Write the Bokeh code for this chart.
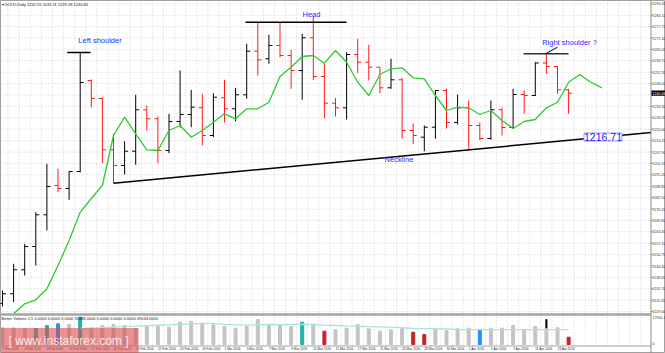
import pandas as pd
from bokeh.plotting import figure
from bokeh.models import Range1d, Label, ColumnDataSource, BoxAnnotation
from bokeh.core.properties import value
from bokeh.embed import file_html
from bokeh.resources import INLINE

# ---------------- data ----------------
trade_days = [d for d in pd.bdate_range("2016-02-02", "2016-04-14")
              if d != pd.Timestamp("2016-03-25")]
date_text = [f"{d.day} {d.strftime('%b')} {d.year}" for d in trade_days]

opens = [1123.52, 1128.92, 1142.29, 1155.27, 1172.92, 1189.24, 1187.57, 1197.04, 1247.73, 1237.70,
         1209.13, 1200.39, 1208.35, 1231.41, 1226.40, 1208.74, 1224.89, 1228.79, 1232.52, 1217.09,
         1238.09, 1231.97, 1239.76, 1264.05, 1259.82, 1267.22, 1261.65, 1253.30, 1271.51, 1249.96,
         1235.09, 1232.52, 1262.21, 1257.92, 1255.14, 1243.66, 1248.12, 1219.88, 1216.15, 1221.72,
         1242.16, 1224.34, 1232.52, 1222.66, 1215.42, 1231.41, 1221.55, 1239.93, 1239.37, 1257.48,
         1255.53, 1242.55]
highs = [1130.76, 1145.63, 1156.77, 1174.37, 1201.33, 1198.55, 1197.21, 1263.33, 1248.29, 1238.26,
         1218.04, 1213.92, 1239.76, 1233.80, 1227.68, 1229.18, 1253.30, 1242.55, 1240.32, 1240.66,
         1248.12, 1243.66, 1268.17, 1280.20, 1273.18, 1280.20, 1264.83, 1273.74, 1283.38, 1257.92,
         1238.09, 1263.49, 1270.96, 1267.61, 1255.14, 1259.82, 1249.23, 1223.78, 1222.66, 1242.55,
         1243.11, 1239.93, 1236.59, 1224.34, 1236.59, 1232.52, 1243.11, 1242.16, 1257.92, 1262.60,
         1255.53, 1243.11]
lows = [1121.85, 1124.24, 1139.11, 1144.68, 1164.18, 1185.51, 1181.28, 1196.49, 1232.69, 1201.67,
        1190.53, 1195.37, 1200.77, 1219.88, 1201.67, 1207.24, 1221.55, 1221.72, 1211.52, 1216.15,
        1224.34, 1224.89, 1237.54, 1250.51, 1257.03, 1260.71, 1243.11, 1236.98, 1248.12, 1226.56,
        1227.68, 1226.01, 1251.80, 1247.73, 1240.66, 1243.11, 1215.26, 1212.47, 1208.35, 1215.26,
        1220.99, 1223.22, 1209.02, 1214.59, 1214.70, 1217.09, 1220.83, 1229.18, 1239.10, 1251.46,
        1240.32, 1229.18]
closes = [1128.92, 1142.29, 1155.27, 1172.92, 1188.69, 1187.57, 1197.04, 1246.62, 1237.70, 1209.13,
          1200.39, 1208.35, 1231.41, 1226.40, 1208.74, 1224.89, 1228.79, 1232.86, 1217.09, 1238.43,
          1231.97, 1239.76, 1264.05, 1259.26, 1267.22, 1261.65, 1253.30, 1271.51, 1249.96, 1235.09,
          1232.52, 1262.21, 1257.92, 1255.14, 1243.66, 1248.12, 1219.88, 1217.09, 1221.72, 1242.16,
          1224.34, 1232.52, 1222.66, 1215.42, 1231.41, 1221.55, 1239.93, 1239.37, 1257.48, 1255.53,
          1242.55, 1240.66]

# green moving average (shifted forward), starts at bar 1
ma_start = 1
ma_values = [1117.78, 1123.35, 1125.58, 1131.71, 1144.68, 1158.61, 1174.37, 1182.00, 1189.24, 1217.09,
             1227.29, 1218.04, 1209.13, 1208.74, 1219.88, 1222.66, 1216.15, 1219.88, 1224.50, 1229.18,
             1226.40, 1231.97, 1231.97, 1235.64, 1249.96, 1255.14, 1261.10, 1261.65, 1257.37, 1264.44,
             1257.92, 1246.78, 1239.37, 1251.07, 1254.25, 1254.80, 1249.23, 1248.68, 1239.37, 1231.02,
             1232.86, 1232.52, 1228.79, 1231.02, 1225.45, 1220.99, 1224.89, 1226.01, 1232.52, 1235.64,
             1246.78, 1251.07, 1246.78, 1243.66]

volumes = [11072, 11072, 10409, 10608, 12597, 13724, 13260, 18100, 11072, 12597,
           13260, 12597, 10608, 11934, 11934, 11470, 14785, 15448, 13260, 13061,
           11934, 10807, 11934, 16575, 12597, 12597, 11934, 14785, 13260, 8818,
           9746, 10807, 13260, 10409, 8818, 9746, 10409, 8155, 6630, 10409,
           9282, 10409, 10807, 9746, 10807, 10807, 12597, 9746, 11934, 10409,
           11072, 4840]
vol_colors = ["#c4c4c4"] * len(volumes)
for i in (3, 4, 7, 27):
    vol_colors[i] = "#1fb3a6"
for i in (5, 43):
    vol_colors[i] = "#1e90ff"
for i in (29, 37, 38, 51):
    vol_colors[i] = "#c0262b"
vol_spike_bar = 49
vol_spike = 16575

vol_avg_start = 7
vol_avg = [10608, 10900, 11250, 11550, 11850, 12150, 12450, 12750, 13050, 13350,
           13650, 13950, 14050, 13300, 13000, 12900, 13100, 13260, 13200, 13260,
           13300, 13260, 12900, 12600, 12300, 12100, 11900, 11700, 11400, 11100,
           10600, 10500, 10450, 10300, 9950, 9900, 9920, 9900, 9880, 9900,
           9900, 9910, 9900, 9900, 9900]

price_ticks = [1290.45, 1284.10, 1277.75, 1271.40, 1265.05, 1258.70, 1252.35, 1246.00, 1239.65,
               1233.30, 1226.95, 1220.60, 1214.25, 1207.90, 1201.55, 1195.20, 1188.85, 1182.50,
               1176.15, 1169.80, 1163.45, 1157.10, 1150.75, 1144.40, 1138.05, 1131.70, 1125.35,
               1119.00]
vol_ticks = [17901.4, 0]
vol_tick_text = ["17901.4", "0"]

neck_x = [10, 55]
neck_y = [1190.53, 1216.71]
head_level = 1280.20
rshoulder_level = 1262.60

# ---------------- geometry ----------------
W, H = 665, 353
AXIS_PX = 650.5
BAR_PX, X0_PX = 11.1, 2.0
PX_PRICE, P_TOP = 0.557, 1292.29
VOL_ZERO_PX, VOL_TOP_PX = 344.0, 317.0
VOL_PER_PX = vol_ticks[0] / (VOL_ZERO_PX - VOL_TOP_PX)


def px_x(px):
    return (px - X0_PX) / BAR_PX


def py_price(py):
    return P_TOP - py * PX_PRICE


def py_vol(py):
    return (VOL_ZERO_PX - py) * VOL_PER_PX


x_axis = px_x(AXIS_PX)
p = figure(width=W, height=H, output_backend="svg", toolbar_location=None,
           x_axis_location=None, y_axis_location=None,
           x_range=Range1d(px_x(0), px_x(W)),
           y_range=Range1d(py_price(H), P_TOP),
           min_border_left=0, min_border_top=0, min_border_bottom=0, min_border_right=0)
p.extra_y_ranges = {"vol": Range1d(py_vol(H), py_vol(0))}
p.background_fill_color = "white"
p.border_fill_color = "white"
p.outline_line_color = "#a0a0a0"
p.grid.visible = False

FONT = "Liberation Sans"
GRID = "#d2d2d2"

# grids (dotted)
grid_x = [i + 0.5 for i in range(-1, 58)]
p.segment(x0=grid_x, y0=[py_price(345)] * len(grid_x), x1=grid_x, y1=[P_TOP] * len(grid_x),
          line_color=GRID, line_dash="1 2", line_width=1)
p.segment(x0=[px_x(0)] * len(price_ticks), y0=price_ticks,
          x1=[x_axis] * len(price_ticks), y1=price_ticks,
          line_color=GRID, line_dash="1 2", line_width=1)

# volume pane
idx = list(range(len(opens)))
p.vbar(x=[vol_spike_bar], top=[vol_spike], bottom=0, width=0.09, color="black", y_range_name="vol")
p.vbar(x=idx, top=volumes, bottom=0, width=0.27, color=vol_colors, y_range_name="vol")
p.line(x=list(range(vol_avg_start, vol_avg_start + len(vol_avg))), y=vol_avg,
       line_color="#a8e4e0", line_width=1.3, y_range_name="vol")

# OHLC bars
BULL, BEAR = "#000000", "#ff1a1a"
colors = [BULL if c >= o else BEAR for o, c in zip(opens, closes)]
src = ColumnDataSource(dict(x=idx, o=opens, h=highs, l=lows, c=closes,
                            xl=[i - 0.32 for i in idx], xr=[i + 0.32 for i in idx], col=colors))
p.segment("x", "h", "x", "l", source=src, line_color="col", line_width=1)
p.segment("xl", "o", "x", "o", source=src, line_color="col", line_width=1)
p.segment("x", "c", "xr", "c", source=src, line_color="col", line_width=1)

# moving average
p.line(x=list(range(ma_start, ma_start + len(ma_values))), y=ma_values,
       line_color="#2ecc2e", line_width=1.3)

# neckline (ray to the price scale)
slope = (neck_y[1] - neck_y[0]) / (neck_x[1] - neck_x[0])
p.line(x=[neck_x[0], x_axis], y=[neck_y[0], neck_y[0] + slope * (x_axis - neck_x[0])],
       line_color="black", line_width=1.5)

# shoulder / head lines
p.line(x=[px_x(66.7), px_x(90)], y=[highs[7], highs[7]], line_color="black", line_width=1.5)
p.line(x=[px_x(245), px_x(346)], y=[head_level, head_level], line_color="black", line_width=1.5)
p.line(x=[px_x(523), px_x(568)], y=[rshoulder_level, rshoulder_level], line_color="#303030", line_width=1.5)
p.line(x=[px_x(545), px_x(557)], y=[rshoulder_level, py_price(46.7)], line_color="black", line_width=1)

BLUE = "#2a2aff"
for txt, cx, cy in [("Left shoulder", 99.5, 39.7), ("Head", 311, 14.3),
                    ("Right shoulder ?", 569, 41.7), ("Neckline", 398.5, 159.3)]:
    p.add_layout(Label(x=px_x(cx), y=py_price(cy), text=txt, text_align="center",
                       text_baseline="middle", text_font=FONT, text_font_size="7.5px",
                       text_color=BLUE))

p.add_layout(Label(x=px_x(602.5), y=py_price(136.5), text=f"{neck_y[1]:.2f}", text_align="center",
                   text_baseline="middle", text_font=FONT, text_font_size="10.5px",
                   text_color="#2323ee", background_fill_color="white",
                   border_line_color="#9a9aff", border_line_width=1))

# pane separators (end at the price scale)
p.segment(x0=[px_x(0)], y0=[py_price(314)], x1=[x_axis], y1=[py_price(314)],
          line_color="#a4a4a4", line_width=2.5)
p.segment(x0=[px_x(0)], y0=[py_price(345.5)], x1=[x_axis], y1=[py_price(345.5)],
          line_color="#a4a4a4", line_width=1.2)

# ---- price scale on the right ----
last = len(opens) - 1
p.segment(x0=[x_axis], y0=[py_price(H)], x1=[x_axis], y1=[P_TOP], line_color="#8c8c8c", line_width=1)
p.segment(x0=[x_axis] * len(price_ticks), y0=price_ticks,
          x1=[px_x(AXIS_PX + 2)] * len(price_ticks), y1=price_ticks, line_color="#8c8c8c")
shown = [t for t in price_ticks if abs(t - closes[last]) > 3]
p.text(x=[px_x(AXIS_PX + 1.6)] * len(shown), y=shown, text=[f"{t:.2f}" for t in shown],
       text_font=value(FONT), text_font_size="3.6px", text_color="#303030",
       text_align="left", text_baseline="middle")
p.text(x=[px_x(AXIS_PX + 1.6)] * len(vol_ticks), y=[vol_ticks[0], py_vol(343)], text=vol_tick_text,
       text_font=value(FONT), text_font_size="3.6px", text_color="#303030",
       text_align="left", text_baseline="middle", y_range_name="vol")

# current price tag on the scale
p.add_layout(BoxAnnotation(left=px_x(AXIS_PX + 0.5), right=px_x(W),
                           bottom=closes[last] - 2.6 * PX_PRICE, top=closes[last] + 2.6 * PX_PRICE,
                           fill_color="black", fill_alpha=1.0, line_color=None, level="overlay"))
p.add_layout(Label(x=px_x(AXIS_PX + 1.6), y=closes[last], text=f"{closes[last]:.2f}",
                   level="overlay", text_baseline="middle", text_font=FONT, text_font_size="3.6px",
                   text_color="white"))

# header texts
p.add_layout(Label(x=px_x(1), y=py_price(3.5), text="\u25be GOLD,Daily "
                   f"{opens[last]:.2f} {highs[last]:.2f} {lows[last]:.2f} {closes[last]:.2f}",
                   text_baseline="middle", text_font=FONT, text_font_size="4px", text_color="#202020"))
p.add_layout(Label(x=px_x(1), y=py_price(317.5),
                   text="Better Volume 1.5 0.0000 0.0000 0.0000 31686.0000 0.0000 0.0000 0.0000 49034.0000",
                   text_baseline="middle", text_font=FONT, text_font_size="4px", text_color="#202020"))

# date labels
lab_idx = idx[::2]
p.text(x=lab_idx, y=[py_vol(348.6)] * len(lab_idx), text=[date_text[i] for i in lab_idx],
       text_font=value(FONT), text_font_size="3.2px", text_color="#303030",
       text_align="left", text_baseline="middle", y_range_name="vol")

# watermark
p.add_layout(BoxAnnotation(left=px_x(0), right=px_x(138), bottom=py_price(353), top=py_price(327.5),
                           fill_color="#dc4f4f", fill_alpha=0.6, line_color=None))
p.add_layout(Label(x=px_x(68), y=py_price(340.5), text="[ www.instaforex.com ]", text_align="center",
                   text_baseline="middle", text_font=FONT, text_font_size="12px",
                   text_color="#ffeaea", text_alpha=0.95))

open("out.html", "w").write(file_html(p, INLINE))
